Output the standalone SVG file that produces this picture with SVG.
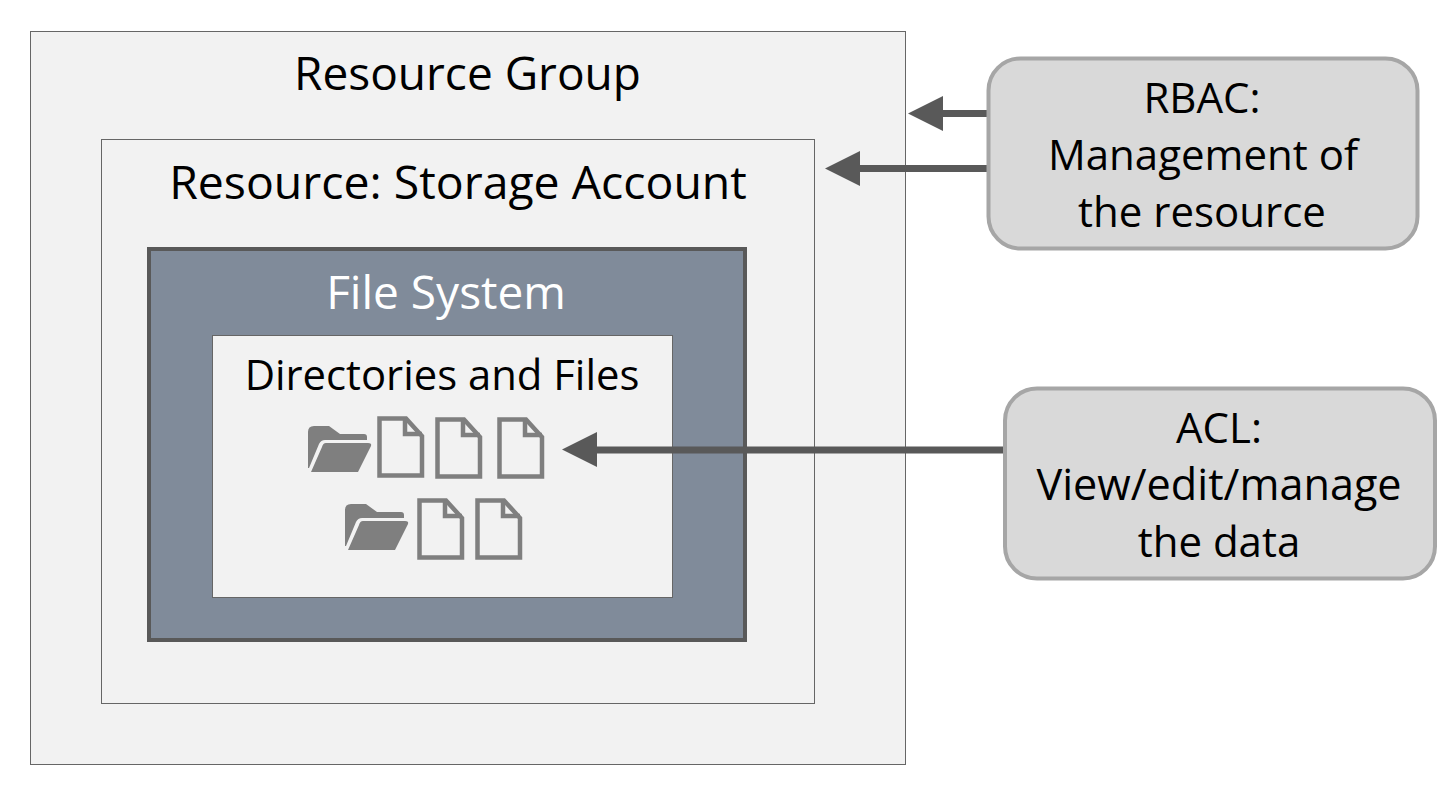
<svg xmlns="http://www.w3.org/2000/svg" width="1453" height="788" viewBox="0 0 1453 788">
<style>
text{font-family:"Open Sans","Noto Sans","Liberation Sans",sans-serif;font-size:42px;fill:#000;text-anchor:middle}
.title{font-size:46px}
.box{fill:#f2f2f2;stroke:#666;stroke-width:1}
.callout{fill:#d9d9d9;stroke:#a6a6a6;stroke-width:4}
.shaft{stroke:#595959;stroke-width:7;fill:none}
.head{fill:#595959}
.doc{fill:#f2f2f2;stroke:#7f7f7f;stroke-width:4.5}
.fold{fill:none;stroke:#7f7f7f;stroke-width:4.5}
.dir{fill:#7f7f7f}
</style>
<defs>
<g id="file"><path class="doc" d="M2.500 2.500H29L45 20V59.500H2.500Z"/><path class="fold" d="M28 2.500V18H45"/></g>
<g id="folder"><path class="dir" d="M0 6Q0 0 6 0H21L32 8H56Q59 8 59 11V14H17Q13 14 11 18L1 42H0Z"/><path class="dir" d="M18 17H60Q64 17 63 20L50 46H3L14 21Q15 17 18 17Z"/></g>
</defs>
<rect width="1453" height="788" fill="#fff"/>
<g id="resource-group"><rect class="box" x="30.500" y="31.500" width="875" height="733"/><text class="title" x="467.500" y="90">Resource Group</text></g>
<g id="storage-account"><rect class="box" x="101.500" y="139.500" width="713" height="564"/><text class="title" x="458" y="198.500" style="font-size:46.400px">Resource: Storage Account</text></g>
<g id="file-system"><rect x="149" y="249" width="596" height="391" fill="#808b9a" stroke="#595959" stroke-width="4"/><text class="title" x="446" y="309" style="fill:#fff">File System</text></g>
<g id="directories"><rect class="box" x="212.500" y="335.500" width="460" height="262"/><text x="442" y="390" style="font-size:41.800px">Directories and Files</text>
<use href="#folder" x="308" y="426"/><use href="#file" x="377" y="416"/><use href="#file" x="435" y="417"/><use href="#file" x="497" y="417"/>
<use href="#folder" x="345" y="504"/><use href="#file" x="417" y="498"/><use href="#file" x="475" y="498"/></g>
<g id="connectors">
<path class="shaft" d="M988 113.500H940"/><path class="head" d="M908 113.500L943 96V131Z"/>
<path class="shaft" d="M988 168.500H857"/><path class="head" d="M825 168.500L860 151V186Z"/>
<path class="shaft" d="M1005 450H594"/><path class="head" d="M562 449.500L597 432V467Z"/>
</g>
<g id="rbac"><rect class="callout" x="988.500" y="58.500" width="429" height="190" rx="32"/><text x="1202" y="113">RBAC:</text><text x="1203" y="170">Management of</text><text x="1202" y="227">the resource</text></g>
<g id="acl"><rect class="callout" x="1005" y="388.500" width="430" height="190" rx="32"/><text x="1219" y="443">ACL:</text><text x="1219" y="500" style="font-size:43.200px">View/edit/manage</text><text x="1219" y="557">the data</text></g>
</svg>
